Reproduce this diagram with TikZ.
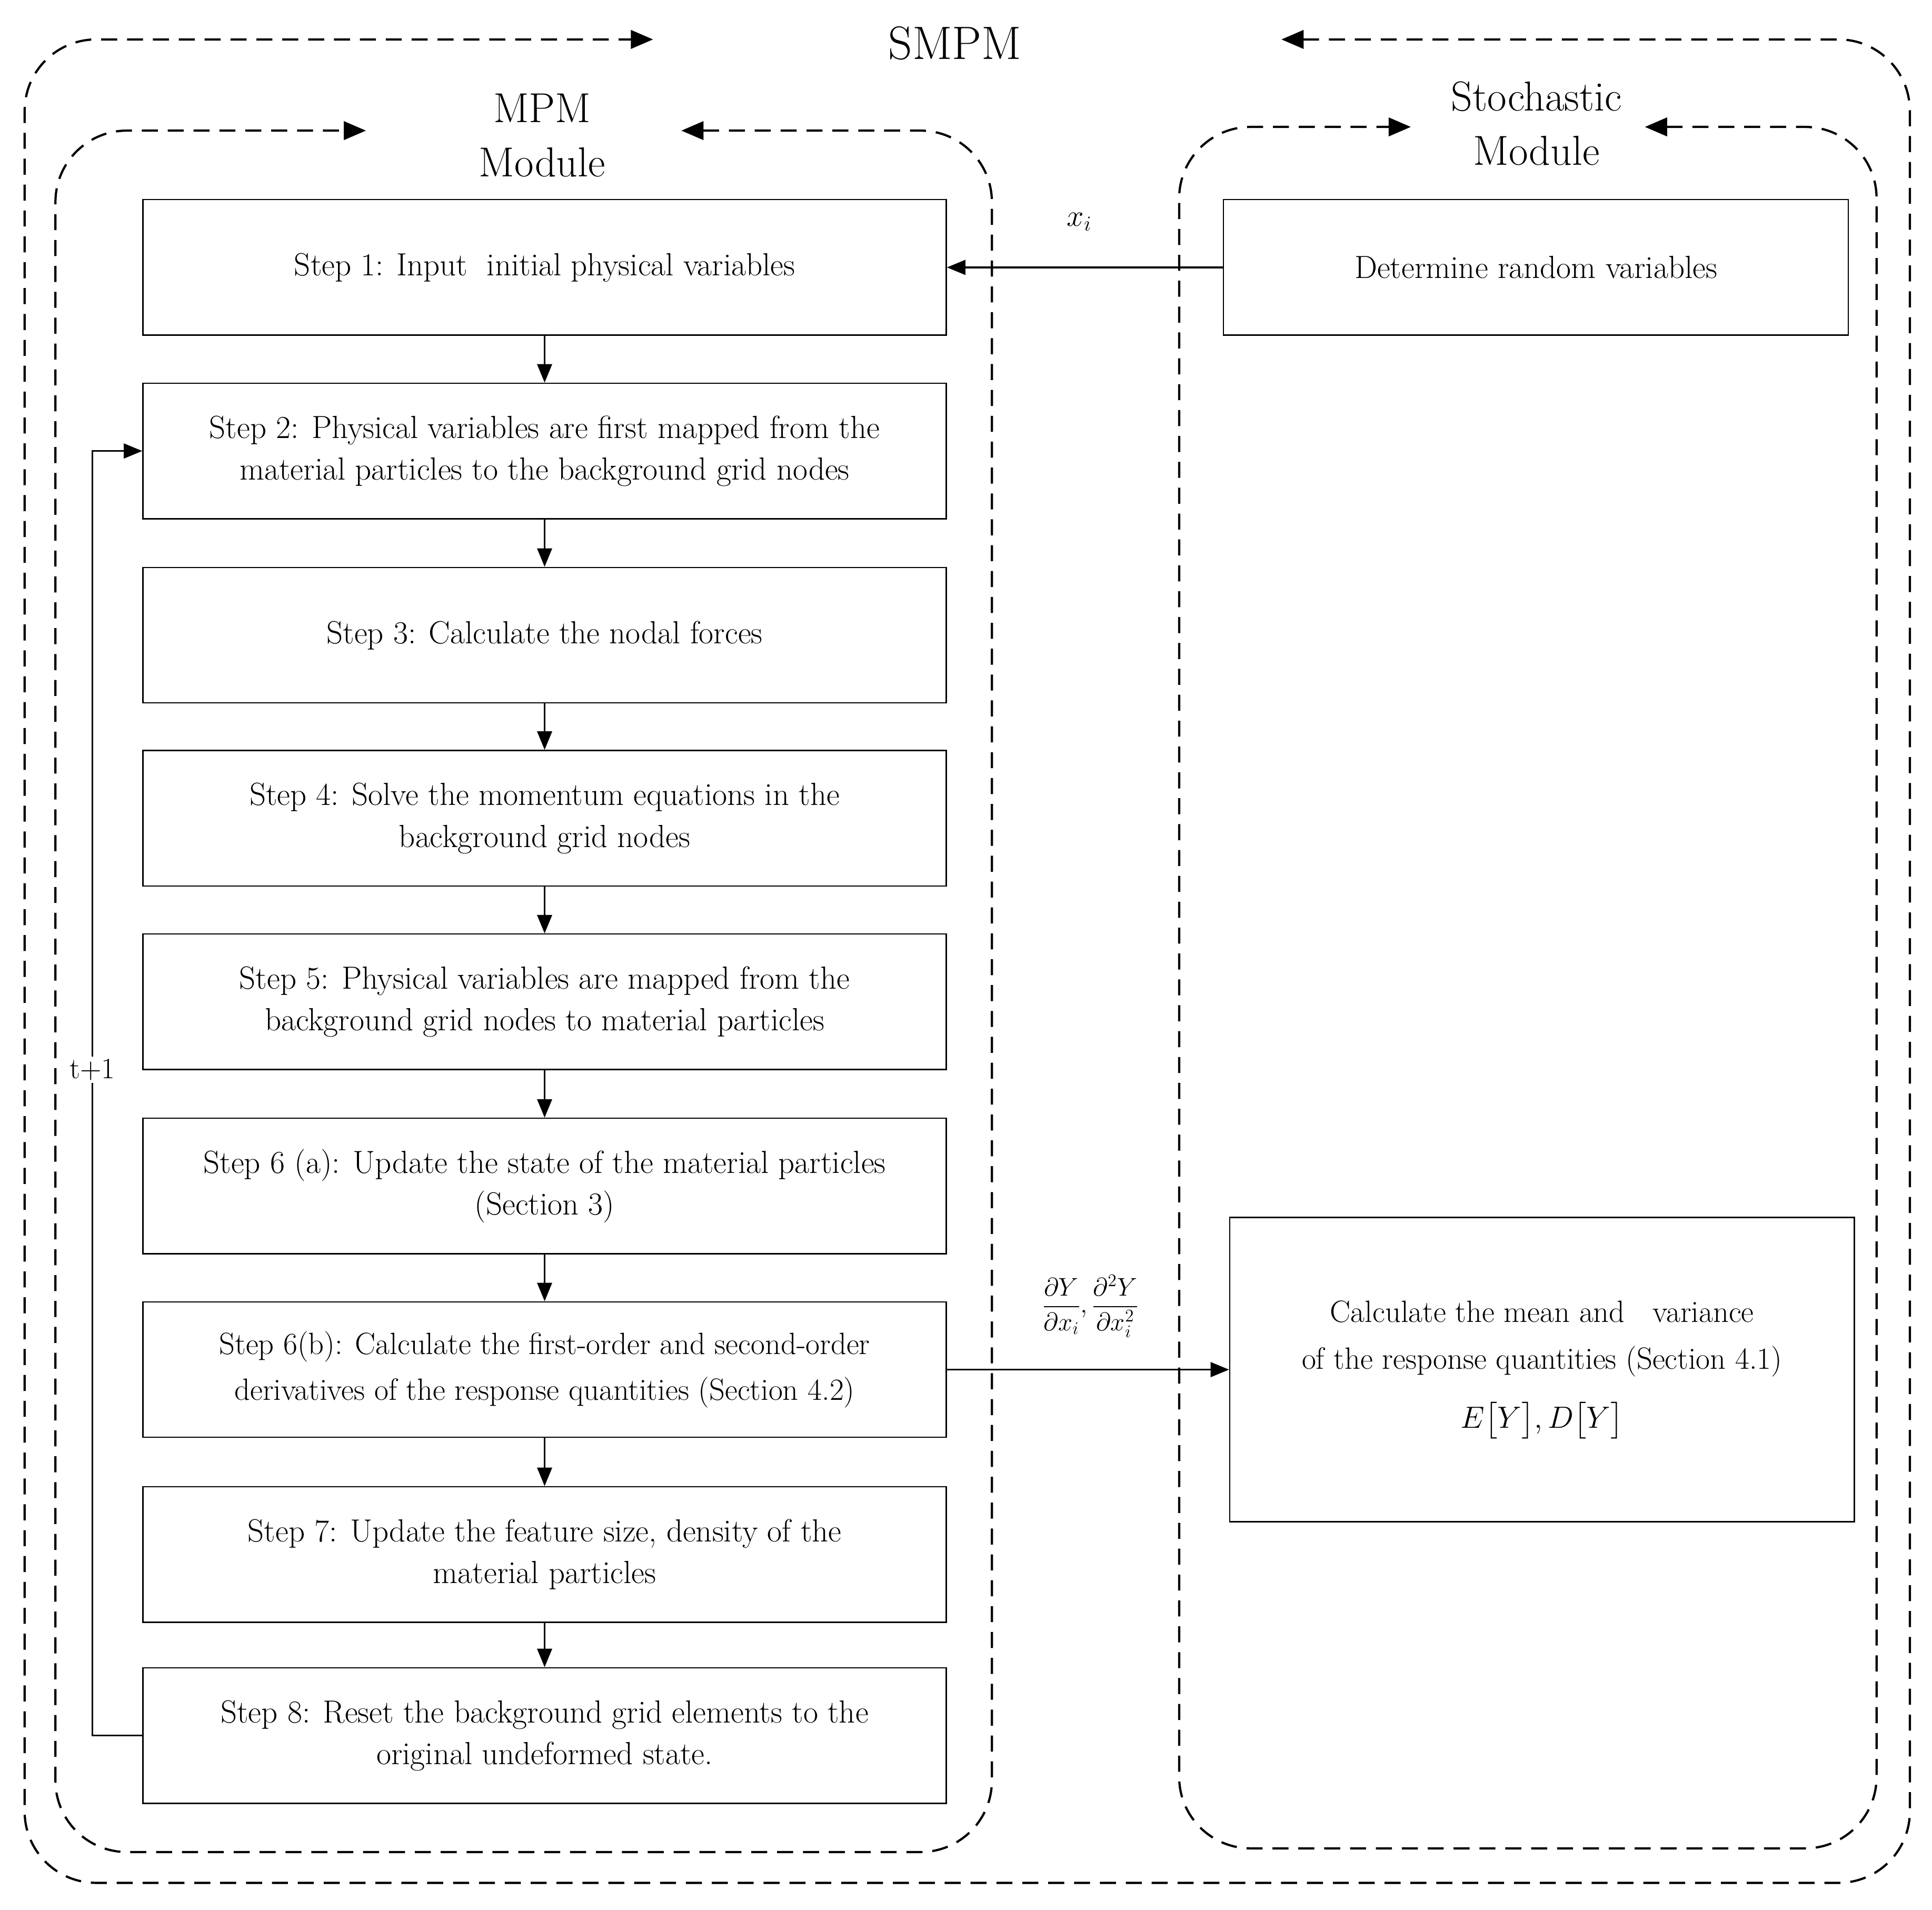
\documentclass[tikz,border=0pt]{standalone}
\usepackage{amsmath}
\usetikzlibrary{arrows.meta}
\begin{document}
\begin{tikzpicture}[x=1pt,y=-1pt,
  dsh/.style={line width=1.8pt,dash pattern=on 13pt off 8pt,rounded corners=58pt,
     {Triangle[length=18pt,width=15pt]}-{Triangle[length=18pt,width=15pt]}},
  box/.style={draw,line width=1pt,minimum width=652pt,minimum height=110pt,align=center,
     font=\fontsize{26}{34}\selectfont},
  rbox/.style={draw,line width=1pt,minimum width=507pt,align=center,
     font=\fontsize{26}{34}\selectfont},
  arr/.style={line width=1.4pt,-{Triangle[length=15pt,width=12pt]}},
  ttl/.style={font=\fontsize{38}{44}\selectfont,align=center}]
\useasboundingbox (0,0) rectangle (1568,1550);
% frames
\draw[dsh] (1040,32) -| (1550,1528) -| (20,32) -- (530,32);
\draw[dsh] (553,106) -| (805,1503) -| (45,106) -- (297,106);
\draw[dsh] (1335,103) -| (1523,1500) -| (957,103) -- (1145,103);
\node[ttl] (tsmpm) at (775,35) {SMPM};
\node[ttl,font=\fontsize{34}{44}\selectfont] (tmpm) at (440,110) {MPM\\Module};
\node[ttl,font=\fontsize{34}{44}\selectfont] (tsto) at (1247,100) {Stochastic\\Module};
% boxes
\node[box] (s1) at (442,217) {Step 1: Input\ \ initial physical variables};
\node[box] (s2) at (442,366) {Step 2: Physical variables are first mapped from the\\material particles to the background grid nodes};
\node[box] (s3) at (442,515.5) {Step 3: Calculate the nodal forces};
\node[box] (s4) at (442,664) {Step 4: Solve the momentum equations in the\\background grid nodes};
\node[box] (s5) at (442,813) {Step 5: Physical variables are mapped from the\\background grid nodes to material particles};
\node[box] (s6a) at (442,962.5) {Step 6 (a): Update the state of the material particles\\(Section 3)};
\node[box,font=\fontsize{25}{37}\selectfont] (s6b) at (442,1111.5) {Step 6(b): Calculate\ the first-order and second-order\\derivatives of the response quantities (Section 4.2)};
\node[box] (s7) at (442,1261.5) {Step 7: Update the feature size, density of the\\material particles};
\node[box] (s8) at (442,1408.5) {Step 8: Reset the background grid elements to the\\original undeformed state.};
\node[rbox,minimum height=110pt] (rv) at (1246.5,217) {Determine random variables};
\node[rbox,minimum height=247pt,font=\fontsize{25}{38}\selectfont] (cm) at (1251.5,1111.5) {Calculate the mean and\ \ \ variance\\ of the response quantities (Section 4.1)\\[10pt] {\fontsize{28}{34}\selectfont$E\bigl[Y\bigr],D\bigl[Y\bigr]$}};
% arrows
\foreach \a/\b in {s1/s2,s2/s3,s3/s4,s4/s5,s5/s6a,s6a/s6b,s6b/s7,s7/s8}
  \draw[arr] (\a) -- (\b);
\draw[arr] (rv) -- (s1);
\draw[arr] (s6b.east) -- (cm.west |- s6b.east);
\coordinate (lb) at (75,1408.5);
\coordinate (lt) at (75,366);
\draw[arr] (s8.west) -- (lb) -- (lt) -- (s2.west);
\node[fill=white,inner sep=2pt,font=\fontsize{24}{28}\selectfont] (t1) at (75,868) {t+1};
\node[font=\fontsize{26}{30}\selectfont] (lx) at (876,180) {$x_i$};
\node[font=\fontsize{22}{26}\selectfont] (ld) at (885,1060) {$\dfrac{\partial Y}{\partial x_i},\dfrac{\partial^2 Y}{\partial x_i^2}$};
\end{tikzpicture}
\end{document}
